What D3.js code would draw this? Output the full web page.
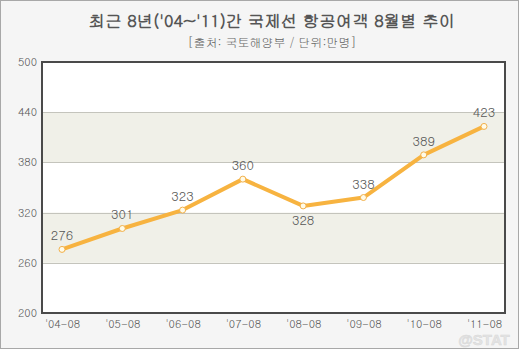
<!DOCTYPE html>
<html>
<head>
<meta charset="utf-8">
<script src="https://cdn.jsdelivr.net/npm/d3@7"></script>
<style>
  html, body { margin: 0; padding: 0; background: #fff; }
  svg { display: block; }
</style>
</head>
<body>
<svg id="chart" width="520" height="350"></svg>
<script>
// Monthly (August) international air passengers, unit: 10,000 people
const periods = ["'04-08", "'05-08", "'06-08", "'07-08", "'08-08", "'09-08", "'10-08", "'11-08"];
const passengers = [276, 301, 323, 360, 328, 338, 389, 423];
const yTicks = [200, 260, 320, 380, 440, 500];
const labelBelow = ["'08-08"];

const title = "최근 8년('04~'11)간 국제선 항공여객 8월별 추이";
const subtitle = "[출처: 국토해양부 / 단위:만명]";

const W = 520, H = 350;
const plot = { left: 42, right: 505, top: 62, bottom: 313 };
const font = "Gulim, 'Noto Sans CJK KR', 'Liberation Sans', sans-serif";

const svg = d3.select("#chart");

// page background and frame
svg.append("rect").attr("x", 0.5).attr("y", 0.5).attr("width", W - 2).attr("height", H - 2)
  .attr("fill", "#f5f5f5").attr("stroke", "#a8a8a8").attr("stroke-width", 1);

// watermark (drawn first so the axis labels sit on top)
svg.append("text").attr("x", 484).attr("y", 345).attr("text-anchor", "middle")
  .attr("font-family", "'Liberation Sans', sans-serif").attr("font-size", 15)
  .attr("font-weight", "bold").attr("fill", "#e4e4e4").attr("stroke", "#d8d8d8")
  .attr("stroke-width", 0.5).text("@STAT");

svg.append("text").attr("x", 272).attr("y", 27).attr("text-anchor", "middle")
  .attr("font-family", font).attr("font-size", 16.5).attr("font-weight", "bold")
  .attr("fill", "#555").text(title);
svg.append("text").attr("x", 272).attr("y", 47).attr("text-anchor", "middle")
  .attr("font-family", font).attr("font-size", 12)
  .attr("fill", "#666").text(subtitle);

const x = d3.scalePoint().domain(periods).range([62, 484]);
const y = d3.scaleLinear().domain([200, 500]).range([plot.bottom, plot.top]);

// plot area
svg.append("rect").attr("x", plot.left).attr("y", plot.top)
  .attr("width", plot.right - plot.left).attr("height", plot.bottom - plot.top)
  .attr("fill", "#fff");

// alternating bands
const bands = d3.pairs(yTicks).filter((d, i) => i % 2 === 1);
svg.append("g").selectAll("rect").data(bands).join("rect")
  .attr("x", plot.left).attr("width", plot.right - plot.left)
  .attr("y", d => y(d[1])).attr("height", d => y(d[0]) - y(d[1]))
  .attr("fill", "#f0f0e8");

// horizontal grid lines
svg.append("g").selectAll("line").data(yTicks.slice(1, -1)).join("line")
  .attr("x1", plot.left).attr("x2", plot.right)
  .attr("y1", d => Math.round(y(d)) + 0.5).attr("y2", d => Math.round(y(d)) + 0.5)
  .attr("stroke", "#c4c4bc").attr("stroke-width", 1);

// plot frame
svg.append("rect").attr("x", plot.left).attr("y", plot.top)
  .attr("width", plot.right - plot.left).attr("height", plot.bottom - plot.top)
  .attr("fill", "none").attr("stroke", "#4a4a4a").attr("stroke-width", 2);

// y axis
const yAxis = d3.axisLeft(y).tickValues(yTicks).tickSize(0).tickPadding(5);
const gy = svg.append("g").attr("transform", `translate(${plot.left},0)`).call(yAxis);
gy.select(".domain").remove();
gy.selectAll("text").attr("font-family", font).attr("font-size", 11).attr("fill", "#555");

// x axis
const xAxis = d3.axisBottom(x).tickSize(0).tickPadding(7);
const gx = svg.append("g").attr("transform", `translate(0,${plot.bottom})`).call(xAxis);
gx.select(".domain").remove();
gx.selectAll("text").attr("font-family", font).attr("font-size", 11).attr("fill", "#555");

// series
const data = periods.map((p, i) => ({ p, v: passengers[i] }));
svg.append("path").datum(data)
  .attr("fill", "none").attr("stroke", "#f7b340").attr("stroke-width", 4)
  .attr("stroke-linejoin", "round")
  .attr("d", d3.line().x(d => x(d.p)).y(d => y(d.v)));

svg.append("g").selectAll("circle").data(data).join("circle")
  .attr("cx", d => x(d.p)).attr("cy", d => y(d.v)).attr("r", 3)
  .attr("fill", "#fffbe8").attr("stroke", "#f2b04a").attr("stroke-width", 1);

svg.append("g").selectAll("text").data(data).join("text")
  .attr("x", d => x(d.p))
  .attr("y", d => labelBelow.includes(d.p) ? y(d.v) + 19 : y(d.v) - 9)
  .attr("text-anchor", "middle")
  .attr("font-family", font).attr("font-size", 13).attr("fill", "#555")
  .text(d => d.v);
</script>
</body>
</html>
